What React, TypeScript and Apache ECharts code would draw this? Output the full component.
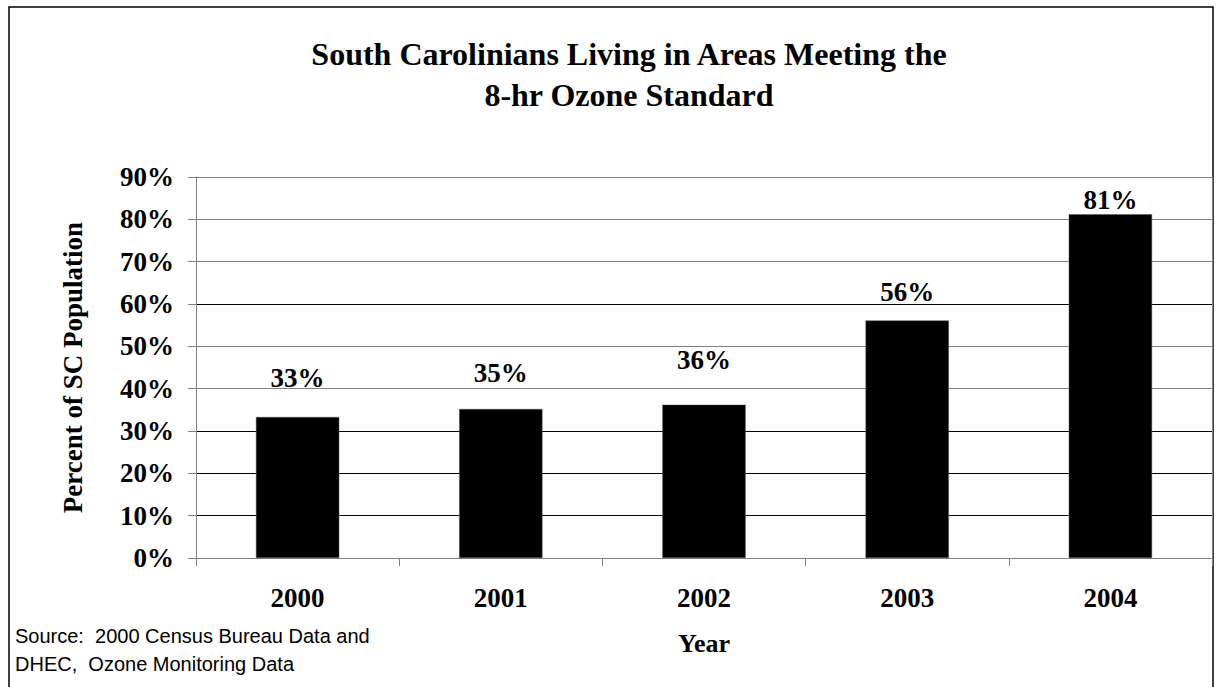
import React, { useEffect, useRef } from "react";
import * as echarts from "echarts";

const years = ["2000", "2001", "2002", "2003", "2004"];
const percentMeeting = [33.3, 35.2, 36.2, 56.1, 81.2];
const labelGaps = [26, 22, 31, 15, 1];
const yTicks = [0, 10, 20, 30, 40, 50, 60, 70, 80, 90];
const gridColors = ["#808080", "#000000", "#000000", "#000000", "#808080", "#808080", "#000000", "#808080", "#808080", "#808080"];

const titleText = "South Carolinians Living in Areas Meeting the\n8-hr Ozone Standard";
const sourceText = "Source:  2000 Census Bureau Data and\nDHEC,  Ozone Monitoring Data";

const serif = "'Liberation Serif', 'Times New Roman', serif";
const sans = "'Liberation Sans', Arial, sans-serif";

export default function App() {
  const ref = useRef<HTMLDivElement>(null);
  useEffect(() => {
    if (!ref.current) return;
    const chart = echarts.init(ref.current, null, { renderer: "svg" });
    const bold = { fontFamily: serif, fontWeight: "bold" as const, color: "#000" };
    chart.setOption({
      animation: false,
      backgroundColor: "#fff",
      title: {
        text: titleText,
        left: 624,
        top: 28,
        textAlign: "center",
        textStyle: { ...bold, fontSize: 32, lineHeight: 41 },
      },
      grid: { left: 196, right: 10, top: 177, bottom: 129 },
      xAxis: {
        type: "category",
        data: years,
        name: "Year",
        nameLocation: "middle",
        nameGap: 72,
        nameTextStyle: { ...bold, fontSize: 26 },
        axisLine: { lineStyle: { color: "#808080", width: 1 } },
        axisTick: { show: true, length: 8, alignWithLabel: false, lineStyle: { color: "#808080" } },
        axisLabel: { ...bold, fontSize: 27, margin: 26 },
      },
      yAxis: [
        {
          type: "value",
          min: yTicks[0],
          max: yTicks[yTicks.length - 1],
          interval: 10,
          name: "Percent of SC Population",
          nameLocation: "middle",
          nameGap: 110,
          nameTextStyle: { ...bold, fontSize: 27 },
          axisLine: { show: true, lineStyle: { color: "#808080", width: 1 } },
          axisTick: { show: true, length: 8, lineStyle: { color: "#808080" } },
          axisLabel: { ...bold, fontSize: 27, margin: 22, formatter: (v: number) => v + "%" },
          splitLine: { show: true, lineStyle: { color: gridColors, width: 1 } },
        },
        {
          type: "value",
          position: "right",
          min: yTicks[0],
          max: yTicks[yTicks.length - 1],
          interval: 10,
          axisLine: { show: true, lineStyle: { color: "#808080", width: 1 } },
          axisTick: { show: false },
          axisLabel: { show: false },
          splitLine: { show: false },
        },
      ],
      series: [
        {
          type: "bar",
          yAxisIndex: 0,
          barWidth: "41%",
          data: percentMeeting.map((v, i) => ({
            value: v,
            label: { distance: labelGaps[i] },
          })),
          itemStyle: { color: "#000", borderColor: "#555", borderWidth: 0.5 },
          label: {
            show: true,
            position: "top",
            ...bold,
            fontSize: 27,
            formatter: (p: any) => Math.round(p.value) + "%",
          },
        },
      ],
      graphic: [
        {
          type: "rect",
          shape: { x: 9, y: 7, width: 1204, height: 700 },
          style: { fill: "none", stroke: "#000", lineWidth: 1.5 },
          silent: true,
        },
        {
          type: "text",
          left: 15,
          top: 622,
          style: { text: sourceText, font: `20px ${sans}`, fill: "#000", lineHeight: 28 },
        },
      ],
    });
    return () => chart.dispose();
  }, []);
  return <div ref={ref} style={{ position: "absolute", left: 0, top: 0, width: 1222, height: 687 }} />;
}
